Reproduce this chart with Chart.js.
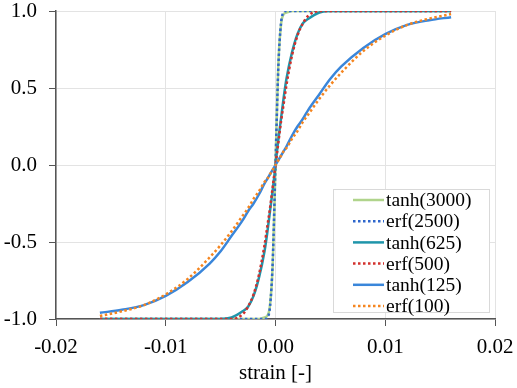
<!DOCTYPE html>
<html>
<head>
<meta charset="utf-8">
<script src="https://cdn.jsdelivr.net/npm/chart.js@4.4.1/dist/chart.umd.min.js"></script>
<style>
    body { margin: 0; background: #fff; }
    canvas { display: block; }
</style>
</head>
<body>
<canvas id="chart" width="517" height="388"></canvas>
<script>
// strain values shared by all series
const strain = [-0.016, -0.014, -0.012, -0.010, -0.008, -0.006, -0.005, -0.004, -0.003, -0.0025, -0.002, -0.0015,
    -0.001, -0.00075, -0.0005, -0.00025, 0, 0.00025, 0.0005, 0.00075, 0.001,
    0.0015, 0.002, 0.0025, 0.003, 0.004, 0.005, 0.006, 0.008, 0.010, 0.012, 0.014, 0.016];

const seriesNames = ["tanh(3000)", "erf(2500)", "tanh(625)", "erf(500)", "tanh(125)", "erf(100)"];

const tanh3000 = [-1, -1, -1, -1, -1, -1, -1, -1, -1, -1, -1, -1,
    -0.99, -0.98, -0.91, -0.64, 0, 0.64, 0.91, 0.98, 0.99,
    1, 1, 1, 1, 1, 1, 1, 1, 1, 1, 1, 1];
const erf2500 = [-1, -1, -1, -1, -1, -1, -1, -1, -1, -1, -1, -1,
    -1, -0.99, -0.92, -0.62, 0, 0.62, 0.92, 0.99, 1,
    1, 1, 1, 1, 1, 1, 1, 1, 1, 1, 1, 1];
const tanh625 = [-1, -1, -1, -1, -1, -1, -1, -0.99, -0.95, -0.92, -0.85, -0.73,
    -0.56, -0.44, -0.30, -0.16, 0, 0.16, 0.30, 0.44, 0.56,
    0.73, 0.85, 0.92, 0.95, 0.99, 1, 1, 1, 1, 1, 1, 1];
const erf500 = [-1, -1, -1, -1, -1, -1, -1, -1, -0.97, -0.92, -0.84, -0.71,
    -0.52, -0.40, -0.28, -0.14, 0, 0.14, 0.28, 0.40, 0.52,
    0.71, 0.84, 0.92, 0.97, 1, 1, 1, 1, 1, 1, 1, 1];
const tanh125 = [-0.96, -0.94, -0.91, -0.85, -0.76, -0.64, -0.56, -0.46, -0.36, -0.30, -0.25, -0.19,
    -0.12, -0.09, -0.06, -0.03, 0, 0.03, 0.06, 0.09, 0.12,
    0.19, 0.25, 0.30, 0.36, 0.46, 0.56, 0.64, 0.76, 0.85, 0.91, 0.94, 0.96];
const erf100 = [-0.98, -0.95, -0.91, -0.84, -0.74, -0.60, -0.52, -0.43, -0.33, -0.28, -0.22, -0.17,
    -0.11, -0.09, -0.06, -0.03, 0, 0.03, 0.06, 0.09, 0.11,
    0.17, 0.22, 0.28, 0.33, 0.43, 0.52, 0.60, 0.74, 0.84, 0.91, 0.95, 0.98];

const seriesValues = [tanh3000, erf2500, tanh625, erf500, tanh125, erf100];
const seriesColors = ["#B0D48C", "#2E66CC", "#1F95AA", "#D2302C", "#3A86DA", "#F5851F"];
const seriesDotted = [false, true, false, true, false, true];

const xTicks = [-0.02, -0.01, 0.00, 0.01, 0.02];
const yTicks = [-1.0, -0.5, 0.0, 0.5, 1.0];

const serif = "'Times New Roman', 'Liberation Serif', Times, 'DejaVu Serif', serif";
Chart.defaults.font.family = serif;
Chart.defaults.color = "#000";

let datasets = seriesNames.map(function (name, i) {
    return {
        label: name,
        data: strain.map(function (x, j) { return { x: x, y: seriesValues[i][j] }; }),
        borderColor: seriesColors[i],
        backgroundColor: seriesColors[i],
        borderWidth: 2.5,
        borderDash: seriesDotted[i] ? [2.5, 2.5] : [],
        pointRadius: 0,
        showLine: true,
        fill: false,
        cubicInterpolationMode: "monotone",
        order: -i
    };
});

// legend box drawn inside the plot, like the spreadsheet one
const boxLegend = {
    id: "boxLegend",
    afterDatasetsDraw(chart) {
        let ctx = chart.ctx;
        let left = 333, top = 189, right = 490, bottom = 313;
        ctx.save();
        ctx.fillStyle = "#fff";
        ctx.fillRect(left, top, right - left, bottom - top);
        ctx.strokeStyle = "#D9D9D9";
        ctx.lineWidth = 1;
        ctx.strokeRect(left + 0.5, top + 0.5, right - left - 1, bottom - top - 1);
        ctx.font = "19.5px " + serif;
        ctx.textBaseline = "middle";
        ctx.fillStyle = "#000";
        chart.data.datasets.forEach(function (ds, i) {
            let y = 200 + i * 21.2;
            ctx.beginPath();
            ctx.strokeStyle = ds.borderColor;
            ctx.lineWidth = ds.borderWidth;
            ctx.setLineDash(ds.borderDash);
            ctx.moveTo(353, y);
            ctx.lineTo(384, y);
            ctx.stroke();
            ctx.setLineDash([]);
            ctx.fillText(ds.label, 386, y + 1);
        });
        ctx.restore();
    }
};

new Chart(document.getElementById("chart").getContext("2d"), {
    type: "scatter",
    data: { datasets: datasets },
    plugins: [boxLegend],
    options: {
        responsive: false,
        animation: false,
        devicePixelRatio: 1,
        layout: { padding: { top: 11, right: 22, left: 0, bottom: 0 } },
        plugins: {
            legend: { display: false },
            tooltip: { enabled: false }
        },
        scales: {
            x: {
                type: "linear",
                min: -0.02,
                max: 0.02,
                afterBuildTicks: function (scale) {
                    scale.ticks = xTicks.map(function (v) { return { value: v }; });
                },
                afterFit: function (scale) {
                    scale.height = 69;
                    scale.paddingLeft = 0;
                    scale.paddingRight = 0;
                },
                ticks: {
                    font: { size: 21 },
                    padding: 9,
                    maxRotation: 0,
                    callback: function (v) { return v.toFixed(2); }
                },
                grid: { color: "#E3E3E3", lineWidth: 1, tickColor: "#555", tickLength: 7 },
                border: { color: "#555", width: 1.5 },
                title: {
                    display: true,
                    text: "strain [-]",
                    font: { size: 21 },
                    padding: { top: 0, bottom: 2 }
                }
            },
            y: {
                type: "linear",
                min: -1,
                max: 1,
                afterBuildTicks: function (scale) {
                    scale.ticks = yTicks.map(function (v) { return { value: v }; });
                },
                afterFit: function (scale) {
                    scale.width = 56;
                    scale.paddingTop = 0;
                    scale.paddingBottom = 0;
                },
                ticks: {
                    font: { size: 21 },
                    padding: 12,
                    callback: function (v) { return v.toFixed(1); }
                },
                grid: { color: "#E3E3E3", lineWidth: 1, tickColor: "#555", tickLength: 7 },
                border: { color: "#555", width: 1.5 }
            }
        }
    }
});
</script>
</body>
</html>
